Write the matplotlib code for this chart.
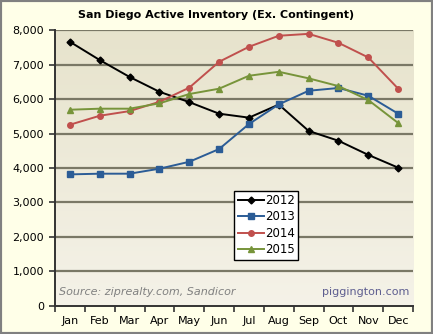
import numpy as np
import matplotlib.pyplot as plt
from matplotlib.patches import Rectangle

months = ['Jan', 'Feb', 'Mar', 'Apr', 'May', 'Jun', 'Jul', 'Aug', 'Sep', 'Oct', 'Nov', 'Dec']
y2012 = [7660, 7130, 6640, 6210, 5910, 5575, 5460, 5840, 5075, 4790, 4380, 4010]
y2013 = [3815, 3835, 3835, 3980, 4180, 4550, 5275, 5845, 6240, 6320, 6095, 5575]
y2014 = [5255, 5515, 5650, 5920, 6330, 7080, 7515, 7835, 7890, 7630, 7205, 6300]
y2015 = [5690, 5720, 5720, 5875, 6145, 6300, 6675, 6790, 6600, 6375, 5970, 5305]
yticks = [0, 1000, 2000, 3000, 4000, 5000, 6000, 7000, 8000]

plt.rcParams['font.family'] = ['DejaVu Sans']

fig = plt.figure(figsize=(4.33, 3.34), dpi=100, facecolor='#FFFFE8')
ax = fig.add_axes([0.127, 0.084, 0.827, 0.826])

# gradient plot background
grad = np.linspace(0, 1, 256).reshape(-1, 1)
top = np.array([0.905, 0.890, 0.800])
bot = np.array([0.960, 0.950, 0.910])
img = top + (bot - top) * grad[:, :, None] * np.ones((1, 1, 3))
ax.imshow(img, extent=[0, 1, 0, 1], transform=ax.transAxes, aspect='auto', zorder=0)

x = np.arange(len(months))
ax.set_xlim(-0.5, 11.5)
ax.set_ylim(0, 8000)

for v in yticks[1:]:
    ax.axhline(v, color='#7A7866', lw=1.6, zorder=1)

ax.plot(x, y2012, color='black', marker='D', ms=3.5, lw=1.4, label='2012', zorder=3)
ax.plot(x, y2013, color='#2B5C96', marker='s', ms=4, lw=1.4, label='2013', zorder=3)
ax.plot(x, y2014, color='#C0504D', marker='o', ms=4, lw=1.4, label='2014', zorder=3)
ax.plot(x, y2015, color='#77943A', marker='^', ms=4.5, lw=1.4, label='2015', zorder=3)

ax.set_yticks(yticks)
ax.set_yticklabels(['{:,}'.format(v) for v in yticks], fontsize=8)
ax.set_xticks(x)
ax.set_xticklabels(months, fontsize=8)
ax.set_xticks(np.arange(-0.5, 12, 1), minor=True)
ax.tick_params(axis='x', which='major', length=0, pad=7)
ax.tick_params(axis='x', which='minor', length=4, width=1.2, color='#333333', direction='out')
ax.tick_params(axis='y', length=4, width=1.2, color='#333333', direction='out', pad=4)

for s in ['top', 'right']:
    ax.spines[s].set_visible(False)
ax.spines['left'].set_color('#333333')
ax.spines['bottom'].set_color('#333333')
ax.spines['left'].set_linewidth(1.4)
ax.spines['bottom'].set_linewidth(1.4)
ax.spines['left'].set_zorder(4)
ax.spines['bottom'].set_zorder(4)

leg = ax.legend(loc='upper center', bbox_to_anchor=(0.59, 0.418), fontsize=8.5,
                fancybox=False, edgecolor='black', framealpha=1, borderpad=0.3,
                labelspacing=0.28, handlelength=2.2, handletextpad=0.1, borderaxespad=0)
leg.get_frame().set_linewidth(1.0)

ax.text(0.012, 0.05, 'Source: ziprealty.com, Sandicor', transform=ax.transAxes,
        fontsize=8, style='italic', color='#808080', va='center', ha='left')
ax.text(0.99, 0.05, 'piggington.com', transform=ax.transAxes,
        fontsize=8, color='#5E5E90', va='center', ha='right')

fig.text(0.5, 0.955, 'San Diego Active Inventory (Ex. Contingent)', ha='center', va='center',
         fontsize=8, fontweight='bold', color='black')

fig.patches.append(Rectangle((0, 0), 1, 1, transform=fig.transFigure, fill=False,
                             edgecolor='#808080', lw=3, zorder=10))

fig.savefig('out.png', dpi=100, facecolor=fig.get_facecolor())
